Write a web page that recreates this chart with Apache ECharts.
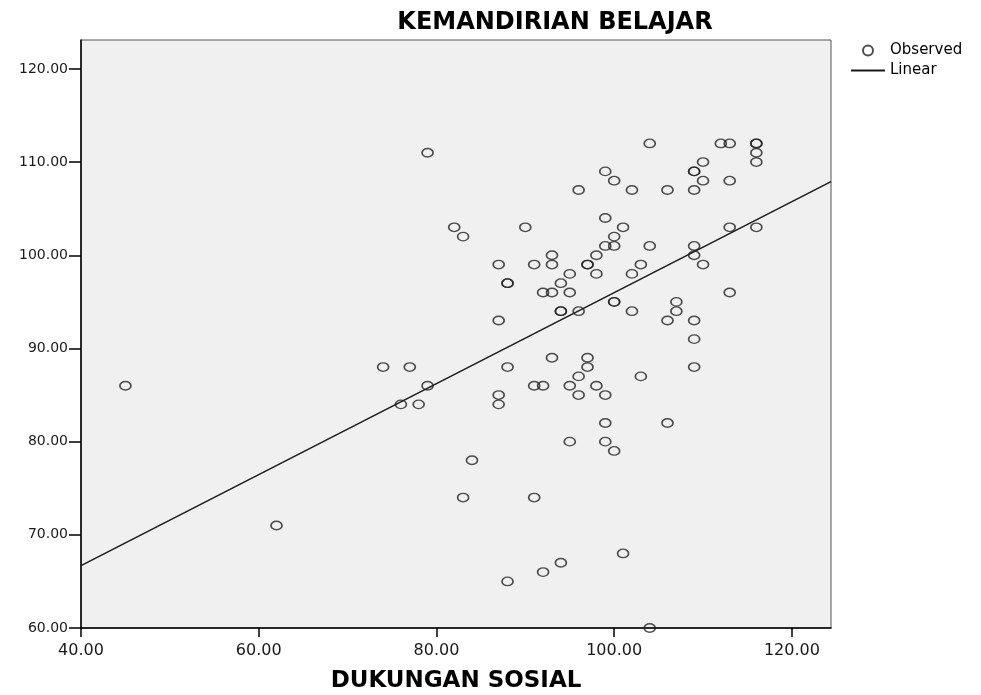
<!DOCTYPE html>
<html>
<head>
<meta charset="utf-8">
<script src="https://cdn.jsdelivr.net/npm/echarts@6/dist/echarts.min.js"></script>
<style>
  html, body { margin: 0; padding: 0; background: #ffffff; }
  #chart { width: 981px; height: 695px; }
</style>
</head>
<body>
<div id="chart"></div>
<script>
// observed cases (DUKUNGAN SOSIAL, KEMANDIRIAN BELAJAR)
const dukunganSosial = [
  45, 62, 74, 76, 77, 78, 79, 79, 82, 83, 83, 84,
  87, 87, 87, 87, 88, 88, 88, 88, 90, 91, 91, 91,
  92, 92, 92, 93, 93, 93, 93, 94, 94, 94, 94,
  95, 95, 95, 95, 96, 96, 96, 96, 97, 97, 97, 97,
  98, 98, 98, 99, 99, 99, 99, 99, 99,
  100, 100, 100, 100, 100, 100, 101, 101, 102, 102, 102,
  103, 103, 104, 104, 104, 106, 106, 106, 107, 107,
  109, 109, 109, 109, 109, 109, 109, 109, 110, 110, 110,
  112, 113, 113, 113, 113, 116, 116, 116, 116, 116
];
const kemandirianBelajar = [
  86, 71, 88, 84, 88, 84, 86, 111, 103, 102, 74, 78,
  99, 93, 85, 84, 97, 97, 88, 65, 103, 99, 86, 74,
  96, 86, 66, 100, 99, 96, 89, 97, 94, 94, 67,
  98, 96, 86, 80, 107, 94, 87, 85, 99, 99, 89, 88,
  100, 98, 86, 109, 104, 101, 85, 82, 80,
  108, 102, 101, 95, 95, 79, 103, 68, 107, 98, 94,
  99, 87, 112, 101, 60, 107, 93, 82, 95, 94,
  109, 109, 107, 101, 100, 93, 91, 88, 110, 108, 99,
  112, 112, 108, 103, 96, 112, 112, 111, 110, 103
];

// fitted linear line, end points
const linearX = [40, 124.4];
const linearY = [66.7, 107.9];

const xTicks = [40, 60, 80, 100, 120];
const yTicks = [60, 70, 80, 90, 100, 110, 120];

const FONT = "'DejaVu Sans', sans-serif";

const chart = echarts.init(document.getElementById("chart"), null, { renderer: "canvas" });

chart.setOption({
  backgroundColor: "#ffffff",
  animation: false,
  title: {
    text: "KEMANDIRIAN BELAJAR",
    left: 550,
    top: 6,
    textAlign: "center",
    textStyle: { fontFamily: FONT, fontSize: 24, fontWeight: "bold", color: "#000" },
  },
  legend: {
    orient: "vertical",
    left: 845,
    top: 38,
    itemWidth: 34,
    itemHeight: 10,
    itemGap: 5,
    textStyle: { fontFamily: FONT, fontSize: 15, color: "#000", lineHeight: 15 },
    data: [
      { name: "Observed" },
      { name: "Linear", itemStyle: { opacity: 0 } },
    ],
  },
  grid: {
    left: 81,
    right: 150,
    top: 40,
    bottom: 67,
    outerBoundsMode: "none",
    show: true,
    backgroundColor: "#f0f0f0",
    borderColor: "#555",
    borderWidth: 1,
  },
  xAxis: {
    type: "value",
    min: 40,
    max: 124.4,
    name: "DUKUNGAN SOSIAL",
    nameLocation: "middle",
    nameGap: 42,
    nameTextStyle: { fontFamily: FONT, fontSize: 23, fontWeight: "bold", color: "#000" },
    axisLine: { onZero: false, lineStyle: { color: "#000", width: 1.5 } },
    axisTick: { show: true, length: 9, customValues: xTicks, lineStyle: { color: "#000", width: 1.5 } },
    axisLabel: {
      customValues: xTicks,
      margin: 15,
      fontFamily: FONT,
      fontSize: 16,
      color: "#1a1a1a",
      formatter: (v) => v.toFixed(2),
    },
    splitLine: { show: false },
  },
  yAxis: {
    type: "value",
    min: 60,
    max: 123.1,
    axisLine: { onZero: false, lineStyle: { color: "#000", width: 1.5 } },
    axisTick: { show: true, length: 12, customValues: yTicks, lineStyle: { color: "#000", width: 1.5 } },
    axisLabel: {
      customValues: yTicks,
      margin: 13,
      fontFamily: FONT,
      fontSize: 14,
      color: "#1a1a1a",
      formatter: (v) => v.toFixed(2),
    },
    splitLine: { show: false },
  },
  series: [
    {
      name: "Observed",
      type: "scatter",
      symbol: "circle",
      symbolSize: [11, 8.5],
      itemStyle: { color: "transparent", borderColor: "#222", borderWidth: 1.5 },
      data: dukunganSosial.map((x, i) => [x, kemandirianBelajar[i]]),
      z: 3,
    },
    {
      name: "Linear",
      type: "line",
      symbol: "none",
      itemStyle: { color: "#1a1a1a" },
      lineStyle: { color: "#1a1a1a", width: 1.5 },
      data: linearX.map((x, i) => [x, linearY[i]]),
      z: 2,
    },
  ],
});

window.addEventListener("resize", () => chart.resize());
</script>
</body>
</html>
